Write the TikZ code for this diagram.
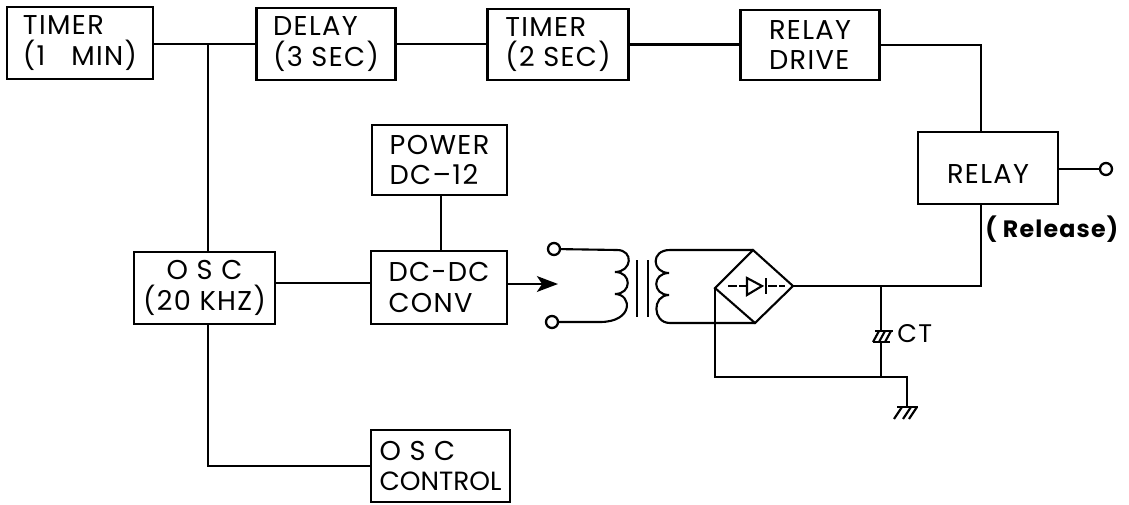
\documentclass[tikz,border=0pt]{standalone}
\usepackage{fontspec}
\setmainfont[LetterSpace=5]{Poppins}
\newfontfamily\tightfont{Poppins}
\usetikzlibrary{arrows.meta,positioning,calc}

\begin{document}
\begin{tikzpicture}[
        x=0.02cm, y=-0.02cm,
        wire/.style={line width=1.2pt, black},
        blockbox/.style={rectangle, draw=black, line width=1.3pt, minimum width=2.78cm, minimum height=1.44cm,
                         inner sep=0pt, align=left, font=\fontsize{15.5}{17.6}\selectfont},
        terminal/.style={circle, draw=black, line width=1.3pt, fill=white, minimum size=0.24cm, inner sep=0pt},
        tag/.style={anchor=west, inner sep=0pt, font=\fontsize{14.5}{16}\selectfont},
        arr/.style={-{Stealth[length=12pt,width=9pt,inset=3pt]}, line width=1.2pt}
      ]
        \useasboundingbox (0,0) rectangle (1129,504);

        \node[blockbox, minimum width=2.92cm] (timerA) at (80,43) {TIMER\\(1 \ \ MIN)};
        \node[blockbox]                       (delay)  at (326,44) {DELAY\\(3 SEC)};
        \node[blockbox, minimum width=2.82cm, minimum height=1.42cm] (timerB) at (558,44.5) {TIMER\\(2 SEC)};
        \node[blockbox, minimum height=1.4cm] (drive)  at (810,45) {RELAY\\DRIVE};
        \node[blockbox, minimum width=2.8cm, align=center] (relay) at (988,168) {~\\RELAY};
        \node[blockbox, minimum width=2.7cm, minimum height=1.4cm] (power) at (439.5,160) {POWER\\DC--12};
        \node[blockbox, minimum width=2.72cm, minimum height=1.46cm] (conv) at (439,287.5) {DC-DC\\CONV};
        \node[blockbox, minimum width=2.82cm, align=center] (osc) at (204.5,288) {O S C\\(20 KHZ)};
        \node[blockbox] (ctrl) at (440.5,466) {O S C\\{\tightfont\fontsize{15}{17.6}\selectfont CONTROL}};

        \node[terminal] (out) at (1106,169) {};
        \node[terminal] (inA) at (554,249) {};
        \node[terminal] (inB) at (552,322) {};
        \node[tag, font=\fontsize{13.5}{16}\selectfont\bfseries] (rel) at (985,229) {( Release)};
        \node[tag] (ctlab) at (897,334) {CT};

        % bridge corners
        \coordinate (brT) at (753,250);
        \coordinate (brR) at (793,286);
        \coordinate (brB) at (755,323);
        \coordinate (brL) at (715,288);
        % junctions
        \coordinate (jA) at (208,44);
        \coordinate (jB) at (981,45);
        \coordinate (jC) at (981,286);
        \coordinate (jD) at (881,286);
        \coordinate (jE) at (881,377);
        \coordinate (jF) at (715,377);
        \coordinate (jG) at (208,466);
        \coordinate (jH) at (320,283);
        \coordinate (jP) at (441,195);
        \coordinate (gnd) at (907,407);
        \coordinate (capT) at (881,331);
        \coordinate (capB) at (881,342);
        \coordinate (tipA) at (558,284);

        \draw[wire] (timerA.east |- jA) -- (delay.west |- jA);
        \draw[wire] (delay.east) -- (delay.east -| timerB.west);
        \draw[wire] (timerB.east) -- (timerB.east -| drive.west);
        \draw[wire] (drive.east) -- (jB) -- (jB |- relay.north);
        \draw[wire] (jA) -- (jA |- osc.north);
        \draw[wire] (jA |- osc.south) -- (jG) -- (ctrl.west |- jG);
        \draw[wire] (osc.east |- jH) -- (conv.west |- jH);
        \draw[wire] (jP) -- (jP |- conv.north);
        \draw[wire] (relay.east |- out) -- (out);
        \draw[wire] (jC |- relay.south) -- (jC) -- (brR);
        \draw[wire] (jD) -- (capT) (capB) -- (jE);
        \draw[wire] (brL) -- (jF) -- (jE -| gnd) -- (gnd);
        \draw[arr] (conv.east |- tipA) -- (tipA);

        % transformer
        \draw[wire] (inA) -- (617,250) .. controls (634,250) and (632,272) .. (615,272)
          .. controls (632,272) and (632,294) .. (615,294)
          .. controls (632,294) and (634,322) .. (600,322) -- (inB);
        \draw[wire] (637,260) -- (637,317) (648,260) -- (648,317);
        \draw[wire] (brT) -- (670,250) .. controls (650,250) and (652,273) .. (669,273)
          .. controls (652,273) and (652,295) .. (669,295)
          .. controls (652,295) and (652,323) .. (670,323) -- (brB);

        % bridge
        \draw[wire] (brT) -- (brR) -- (brB) -- (brL) -- cycle;
        \draw[wire, dash pattern=on 5pt off 1.5pt] (728,286) -- (746,286) (768,286) -- (785,286);
        \draw[wire] (747,278) -- (747,295) -- (762,286) -- cycle;
        \draw[wire] (766,278) -- (766,294);

        % capacitor
        \draw[wire] (875,331) -- (893,331) (873,342) -- (890,342);
        \foreach \cx in {873,879,885}
          \draw[wire] (\cx,342) -- (\cx+6,331);

        % ground
        \draw[wire] (897,407) -- (918,407);
        \foreach \gx in {894,903,909}
          \draw[wire] (\gx,419) -- (\gx+8,407);
      \end{tikzpicture}
\end{document}
